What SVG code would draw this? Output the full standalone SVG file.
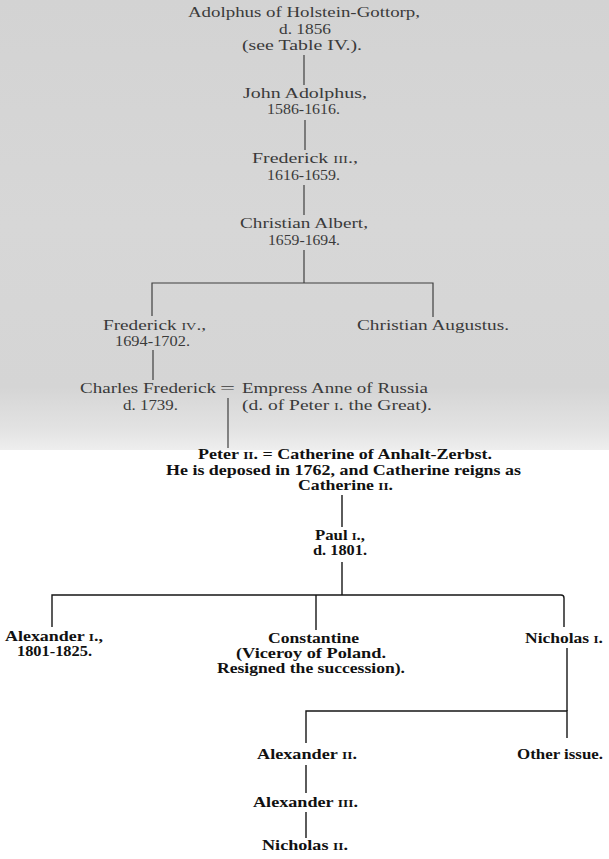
<svg xmlns="http://www.w3.org/2000/svg" width="609" height="859" viewBox="0 0 609 859">
<defs>
<linearGradient id="bg" x1="0" y1="0" x2="0" y2="1">
<stop offset="0" stop-color="#d3d3d3"/>
<stop offset="0.5" stop-color="#d7d7d7"/>
<stop offset="0.86" stop-color="#d5d5d5"/>
<stop offset="0.95" stop-color="#e2e2e2"/>
<stop offset="1" stop-color="#eeeeee"/>
</linearGradient>
</defs>
<style>
.old{font-family:"Liberation Serif","Times New Roman",serif;font-size:15px;fill:#3a3a3a}
.new{font-family:"Liberation Serif","Times New Roman",serif;font-size:15px;font-weight:bold;fill:#111}
.sc{font-size:0.74em}
.lo{stroke:#3f3f3f;stroke-width:1.2;fill:none}
.ln{stroke:#161616;stroke-width:1.4;fill:none}
</style>
<rect x="0" y="0" width="609" height="450" fill="url(#bg)"/>
<rect x="0" y="450" width="609" height="409" fill="#ffffff"/>

<g id="connectors">
<line class="lo" x1="304" y1="55" x2="304" y2="85"/>
<line class="lo" x1="305" y1="120" x2="305" y2="150"/>
<line class="lo" x1="304" y1="185" x2="304" y2="215"/>
<line class="lo" x1="304" y1="250" x2="304" y2="283"/>
<polyline class="lo" points="152,316 152,283 433,283 433,317"/>
<line class="lo" x1="153" y1="350" x2="153" y2="380"/>
<line class="lo" x1="228" y1="398" x2="228" y2="448"/>
<line class="ln" x1="342" y1="495" x2="342" y2="527"/>
<line class="ln" x1="342" y1="562" x2="342" y2="595"/>
<path class="ln" d="M52,627 V595 H561 Q564,595 564,598 V627"/>
<line class="ln" x1="316" y1="595" x2="316" y2="630"/>
<line class="ln" x1="567" y1="648" x2="567" y2="711"/>
<polyline class="ln" points="306,743 306,711 567,711 567,738"/>
<line class="ln" x1="306" y1="765" x2="306" y2="793"/>
<line class="ln" x1="306" y1="812" x2="306" y2="838"/>
</g>

<g id="n-adolphus" class="old">
<text x="188" y="17" textLength="232" lengthAdjust="spacingAndGlyphs">Adolphus of Holstein-Gottorp,</text>
<text x="279" y="34" textLength="52" lengthAdjust="spacingAndGlyphs">d. 1856</text>
<text x="242" y="50" textLength="120" lengthAdjust="spacingAndGlyphs">(see Table IV.).</text>
</g>
<g id="n-john-adolphus" class="old">
<text x="243" y="98" textLength="124" lengthAdjust="spacingAndGlyphs">John Adolphus,</text>
<text x="267" y="114" textLength="73" lengthAdjust="spacingAndGlyphs">1586-1616.</text>
</g>
<g id="n-frederick-3" class="old">
<text x="252" y="163" textLength="106" lengthAdjust="spacingAndGlyphs">Frederick <tspan class="sc">III</tspan>.,</text>
<text x="267" y="180" textLength="73" lengthAdjust="spacingAndGlyphs">1616-1659.</text>
</g>
<g id="n-christian-albert" class="old">
<text x="240" y="228" textLength="128" lengthAdjust="spacingAndGlyphs">Christian Albert,</text>
<text x="268" y="245" textLength="72" lengthAdjust="spacingAndGlyphs">1659-1694.</text>
</g>
<g id="n-frederick-4" class="old">
<text x="103" y="330" textLength="103" lengthAdjust="spacingAndGlyphs">Frederick <tspan class="sc">IV</tspan>.,</text>
<text x="115" y="346" textLength="75" lengthAdjust="spacingAndGlyphs">1694-1702.</text>
</g>
<g id="n-christian-augustus" class="old">
<text x="357" y="330" textLength="152" lengthAdjust="spacingAndGlyphs">Christian Augustus.</text>
</g>
<g id="n-charles-frederick" class="old">
<text x="80" y="393" textLength="136" lengthAdjust="spacingAndGlyphs">Charles Frederick</text>
<text x="123" y="410" textLength="55" lengthAdjust="spacingAndGlyphs">d. 1739.</text>
</g>
<g id="m-charles-anne" class="old">
<text x="220" y="393" textLength="15" lengthAdjust="spacingAndGlyphs">=</text>
</g>
<g id="n-empress-anne" class="old">
<text x="242" y="393" textLength="186" lengthAdjust="spacingAndGlyphs">Empress Anne of Russia</text>
<text x="242" y="410" textLength="190" lengthAdjust="spacingAndGlyphs">(d. of Peter <tspan class="sc">I</tspan>. the Great).</text>
</g>
<g id="n-peter-2" class="new">
<text x="198" y="459" textLength="294" lengthAdjust="spacingAndGlyphs">Peter <tspan class="sc">II</tspan>. = Catherine of Anhalt-Zerbst.</text>
<text x="166" y="475" textLength="355" lengthAdjust="spacingAndGlyphs">He is deposed in 1762, and Catherine reigns as</text>
<text x="298" y="490" textLength="95" lengthAdjust="spacingAndGlyphs">Catherine <tspan class="sc">II</tspan>.</text>
</g>
<g id="n-paul-1" class="new">
<text x="315" y="540" textLength="50" lengthAdjust="spacingAndGlyphs">Paul <tspan class="sc">I</tspan>.,</text>
<text x="313" y="555" textLength="54" lengthAdjust="spacingAndGlyphs">d. 1801.</text>
</g>
<g id="n-alexander-1" class="new">
<text x="5" y="641" textLength="98" lengthAdjust="spacingAndGlyphs">Alexander <tspan class="sc">I</tspan>.,</text>
<text x="17" y="656" textLength="75" lengthAdjust="spacingAndGlyphs">1801-1825.</text>
</g>
<g id="n-constantine" class="new">
<text x="268" y="643" textLength="91" lengthAdjust="spacingAndGlyphs">Constantine</text>
<text x="236" y="658" textLength="150" lengthAdjust="spacingAndGlyphs">(Viceroy of Poland.</text>
<text x="217" y="673" textLength="188" lengthAdjust="spacingAndGlyphs">Resigned the succession).</text>
</g>
<g id="n-nicholas-1" class="new">
<text x="525" y="643" textLength="78" lengthAdjust="spacingAndGlyphs">Nicholas <tspan class="sc">I</tspan>.</text>
</g>
<g id="n-alexander-2" class="new">
<text x="257" y="759" textLength="100" lengthAdjust="spacingAndGlyphs">Alexander <tspan class="sc">II</tspan>.</text>
</g>
<g id="n-other-issue" class="new">
<text x="517" y="759" textLength="86" lengthAdjust="spacingAndGlyphs">Other issue.</text>
</g>
<g id="n-alexander-3" class="new">
<text x="253" y="807" textLength="105" lengthAdjust="spacingAndGlyphs">Alexander <tspan class="sc">III</tspan>.</text>
</g>
<g id="n-nicholas-2" class="new">
<text x="262" y="850" textLength="86" lengthAdjust="spacingAndGlyphs">Nicholas <tspan class="sc">II</tspan>.</text>
</g>
</svg>
